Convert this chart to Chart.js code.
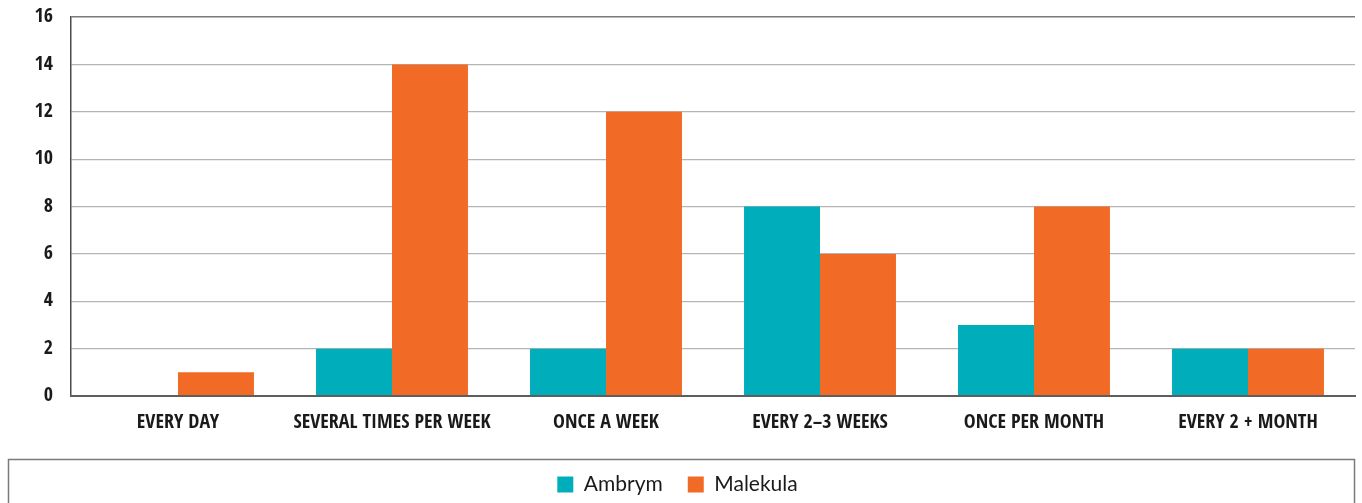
<!DOCTYPE html>
<html>
<head>
<meta charset="utf-8">
<script src="https://cdn.jsdelivr.net/npm/chart.js@4/dist/chart.umd.min.js"></script>
<style>
  html, body { margin: 0; padding: 0; background: #ffffff; }
  #wrap { position: relative; width: 1362px; height: 503px; }
</style>
</head>
<body>
<div id="wrap"><canvas id="c"></canvas></div>
<script>
// Visit frequency by island
const categories = ['EVERY DAY', 'SEVERAL TIMES PER WEEK', 'ONCE A WEEK', 'EVERY 2\u20133 WEEKS', 'ONCE PER MONTH', 'EVERY 2 + MONTH'];
const ambrym = [0, 2, 2, 8, 3, 2];
const malekula = [1, 14, 12, 6, 8, 2];
const yTicks = [0, 2, 4, 6, 8, 10, 12, 14, 16];

const TEAL = '#00aebb';
const ORANGE = '#f26b26';
const condensed = '"Open Sans Condensed", "Roboto Condensed", sans-serif';

// Outline around the legend strip
const legendFrame = {
  id: 'legendFrame',
  afterDraw(chart) {
    const lg = chart.legend;
    const ctx = chart.ctx;
    ctx.save();
    ctx.strokeStyle = '#7a7a7a';
    ctx.lineWidth = 1.5;
    ctx.beginPath();
    const top = lg.top + 10.5;
    ctx.moveTo(8.5, chart.height + 2);
    ctx.lineTo(8.5, top);
    ctx.lineTo(1354.5, top);
    ctx.lineTo(1354.5, chart.height + 2);
    ctx.stroke();
    ctx.restore();
  }
};

new Chart(document.getElementById('c'), {
  type: 'bar',
  data: {
    labels: categories,
    datasets: [
      { label: 'Ambrym', data: ambrym, backgroundColor: TEAL, borderWidth: 0 },
      { label: 'Malekula', data: malekula, backgroundColor: ORANGE, borderWidth: 0 }
    ]
  },
  options: {
    responsive: true,
    maintainAspectRatio: false,
    animation: false,
    devicePixelRatio: 1,
    layout: { padding: { top: 17, right: 7, bottom: -2, left: 0 } },
    datasets: { bar: { categoryPercentage: 0.71, barPercentage: 1.0 } },
    scales: {
      x: {
        grid: { display: false, drawTicks: false },
        border: { display: true, color: '#5e5e5e', width: 2, z: 1 },
        ticks: {
          color: '#1a1a1a',
          padding: 15,
          maxRotation: 0,
          autoSkip: false,
          font: { family: condensed, size: 20, weight: 'bold' }
        },
        afterFit(scale) { scale.height = 53; }
      },
      y: {
        min: 0,
        max: 16,
        afterBuildTicks(scale) { scale.ticks = yTicks.map(v => ({ value: v })); },
        grid: {
          drawTicks: false,
          color: ctx => (ctx.tick && ctx.tick.value === 16) ? '#7a7a7a' : '#b5b5b5',
          lineWidth: ctx => (ctx.tick && ctx.tick.value === 16) ? 1.5 : 1.2
        },
        border: { display: true, color: '#4a4a4a', width: 1.5 },
        ticks: {
          color: '#1a1a1a',
          padding: 18,
          font: { family: condensed, size: 20, weight: 'bold' }
        },
        afterFit(scale) {
          scale.width = 71;
          scale.paddingTop = 0;
          scale.paddingBottom = 0;
        }
      }
    },
    plugins: {
      legend: {
        position: 'bottom',
        labels: {
          boxWidth: 16,
          boxHeight: 16,
          padding: 25,
          color: '#1a1a1a',
          font: { family: 'Lato, "Noto Sans", sans-serif', size: 21 }
        }
      },
      tooltip: { enabled: false }
    }
  },
  plugins: [legendFrame]
});
</script>
</body>
</html>
